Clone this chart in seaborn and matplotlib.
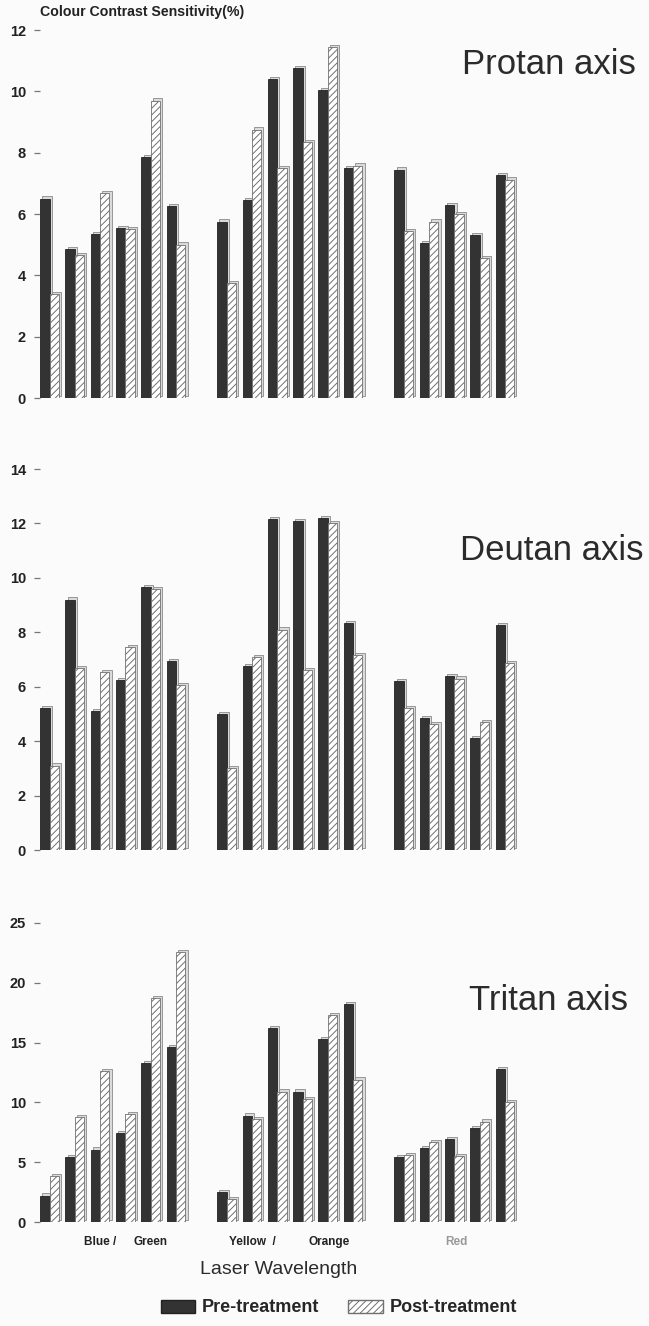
"""
Colour contrast sensitivity before / after laser treatment
three colour-confusion axes, grouped by laser wavelength
"""

import numpy  as np
import pandas as pd
import matplotlib
matplotlib.use("Agg")
import matplotlib.pyplot as plt
import matplotlib.transforms as mtransforms
from matplotlib.patches import Patch
import seaborn as sns

# ─────────────────────────────────────────────
# DATA
# ─────────────────────────────────────────────
BLUE_GREEN    = ["BG1", "BG2", "BG3", "BG4", "BG5", "BG6"]
YELLOW_ORANGE = ["YO1", "YO2", "YO3", "YO4", "YO5", "YO6"]
RED           = ["R1", "R2", "R3", "R4", "R5"]

# empty slots between the wavelength groups
ORDER = BLUE_GREEN + ["gap1"] + YELLOW_ORANGE + ["gap2"] + RED
LASERS = BLUE_GREEN + YELLOW_ORANGE + RED

PROTAN_PRE  = [6.5, 4.85, 5.35, 5.55, 7.85, 6.25,
               5.75, 6.45, 10.4, 10.75, 10.05, 7.5,
               7.45, 5.05, 6.3, 5.3, 7.28]
PROTAN_POST = [3.4, 4.65, 6.68, 5.5, 9.7, 5.0,
               3.75, 8.75, 7.5, 8.35, 11.45, 7.58,
               5.45, 5.75, 6.0, 4.55, 7.12]

DEUTAN_PRE  = [5.2, 9.2, 5.1, 6.25, 9.65, 6.95,
               5.0, 6.75, 12.15, 12.1, 12.2, 8.35,
               6.2, 4.85, 6.4, 4.1, 8.25]
DEUTAN_POST = [3.1, 6.68, 6.55, 7.45, 9.58, 6.05,
               3.0, 7.1, 8.1, 6.62, 12.0, 7.15,
               5.2, 4.62, 6.3, 4.7, 6.88]

TRITAN_PRE  = [2.2, 5.4, 6.05, 7.4, 13.3, 14.6,
               2.5, 8.9, 16.2, 10.9, 15.3, 18.25,
               5.4, 6.15, 6.9, 7.85, 12.8]
TRITAN_POST = [3.85, 8.75, 12.65, 9.05, 18.7, 22.6,
               1.9, 8.6, 10.9, 10.3, 17.3, 11.9,
               5.6, 6.7, 5.5, 8.4, 10.0]

PANELS = [
    ("Protan axis", PROTAN_PRE, PROTAN_POST, [0, 2, 4, 6, 8, 10, 12], 12),
    ("Deutan axis", DEUTAN_PRE, DEUTAN_POST, [0, 2, 4, 6, 8, 10, 12, 14], 14),
    ("Tritan axis", TRITAN_PRE, TRITAN_POST, [0, 5, 10, 15, 20, 25], 25),
]

TREATMENTS = ["Pre-treatment", "Post-treatment"]

DARK   = "#333333"
HATCHC = "#707070"
SIDE   = "#dadada"

# ─────────────────────────────────────────────
# LAYOUT  (pixels)
# ─────────────────────────────────────────────
W, H = 649, 1326
AX_LEFT_PX, AX_RIGHT_PX = 40, 645
AX_ROWS = [(30, 398), (469, 850), (923, 1222)]   # pixel top / bottom of each panel
PAIR0_PX, PAIR_STEP_PX = 49.5, 25.3               # first pair centre, pair spacing
XLIM = ((AX_LEFT_PX - PAIR0_PX) / PAIR_STEP_PX, (AX_RIGHT_PX - PAIR0_PX) / PAIR_STEP_PX)
TITLE_POS = [(636, 64), (643, 550), (628, 1000)]  # right edge / centre y

sns.set_theme(style="white")
plt.rcParams["font.family"] = ["Liberation Sans", "DejaVu Sans"]
plt.rcParams["hatch.linewidth"] = 0.7


def make_frame(pre, post):
    return pd.DataFrame({
        "laser":     LASERS * 2,
        "value":     list(pre) + list(post),
        "treatment": [TREATMENTS[0]] * len(pre) + [TREATMENTS[1]] * len(post),
    })


def add_depth(ax, fig):
    # fake 3D extrusion: light copy of each bar shifted up/right
    shift = mtransforms.ScaledTranslation(2.2 / 100, 2.2 / 100, fig.dpi_scale_trans)
    for p in list(ax.patches):
        back = plt.Rectangle(p.get_xy(), p.get_width(), p.get_height(),
                             facecolor=SIDE, edgecolor="#8a8a8a", linewidth=0.6,
                             transform=ax.transData + shift, zorder=p.get_zorder() - 0.5)
        ax.add_patch(back)


fig = plt.figure(figsize=(W / 100, H / 100), dpi=100)
fig.patch.set_facecolor("#fbfbfb")

for (title, pre, post, ticks, ymax), (top, bot), (tx, ty) in zip(PANELS, AX_ROWS, TITLE_POS):
    ax = fig.add_axes([AX_LEFT_PX / W, 1 - bot / H,
                       (AX_RIGHT_PX - AX_LEFT_PX) / W, (bot - top) / H])
    ax.set_facecolor("none")
    df = make_frame(pre, post)
    sns.barplot(data=df, x="laser", y="value", hue="treatment", order=ORDER,
                hue_order=TREATMENTS, palette=[DARK, "white"], width=0.74,
                saturation=1, legend=False, ax=ax, zorder=3)
    for bar in ax.containers[0]:
        bar.set_edgecolor("#222222")
        bar.set_linewidth(0.6)
    for bar in ax.containers[1]:
        bar.set_facecolor("white")
        bar.set_edgecolor(HATCHC)
        bar.set_hatch("/////")
        bar.set_linewidth(0.6)
    add_depth(ax, fig)

    ax.set_xlim(*XLIM)
    ax.set_ylim(0, ymax)
    ax.set_yticks(ticks)
    ax.set_yticklabels([str(t) for t in ticks], fontweight="bold", fontsize=10.5,
                       color="#222222")
    ax.tick_params(axis="y", left=True, length=4, width=0.9, color="#777777", pad=6)
    ax.set_xticks([])
    ax.set_xlabel("")
    ax.set_ylabel("")
    sns.despine(ax=ax, left=True, bottom=True)
    fig.text(tx / W, 1 - ty / H, title, ha="right", va="center",
             fontsize=25, color="#2b2b2b")

# ─────────────────────────────────────────────
# TEXT
# ─────────────────────────────────────────────
fig.text(40 / W, 1 - 12 / H, "Colour Contrast Sensitivity(%)", fontsize=10.2,
         fontweight="bold", ha="left", va="center", color="#222222")

lab_y = 1 - 1242 / H
lab_kw = dict(fontsize=8.5, fontweight="bold", ha="center", va="center", color="#222222")
fig.text(100 / W, lab_y, "Blue /", **lab_kw)
fig.text(151 / W, lab_y, "Green", **lab_kw)
fig.text(252 / W, lab_y, "Yellow  /", **lab_kw)
fig.text(329 / W, lab_y, "Orange", **lab_kw)
fig.text(456 / W, lab_y, "Red", **{**lab_kw, "color": "#999999"})

fig.text(279 / W, 1 - 1270 / H, "Laser Wavelength", fontsize=14, ha="center",
         va="center", color="#2b2b2b")

handles = [Patch(facecolor=DARK, edgecolor="#222222"),
           Patch(facecolor="white", edgecolor=HATCHC, hatch="/////")]
fig.legend(handles, TREATMENTS, loc="center", bbox_to_anchor=(339 / W, 1 - 1308 / H),
           ncol=2, frameon=False, handlelength=1.9, handleheight=0.75,
           columnspacing=1.6, handletextpad=0.4,
           prop={"weight": "bold", "size": 13})

plt.savefig("out.png", dpi=100, facecolor=fig.get_facecolor())
plt.close()
